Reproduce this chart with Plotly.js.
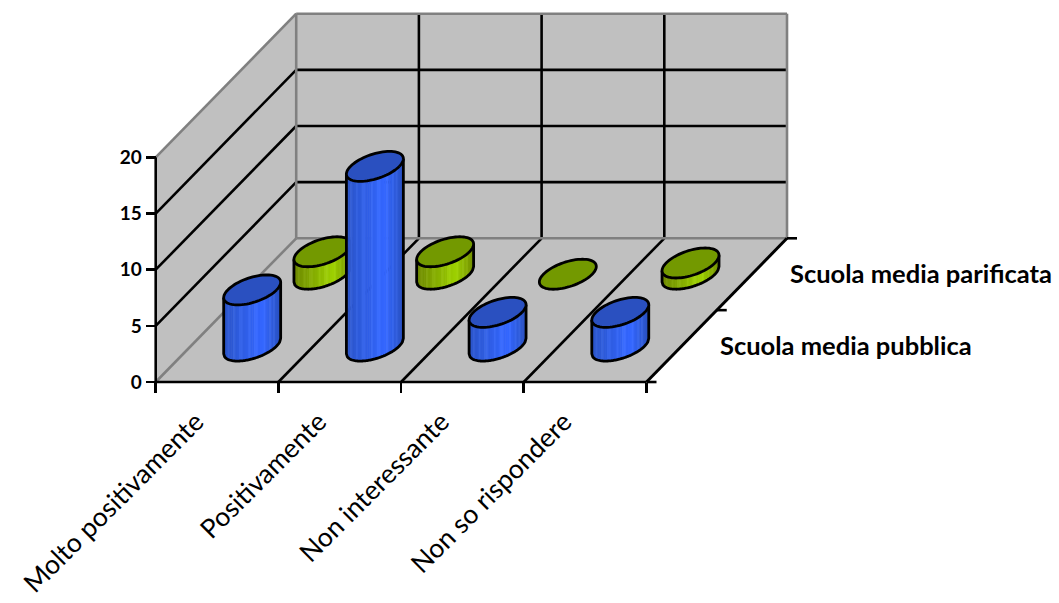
<!DOCTYPE html>
<html>
<head>
<meta charset="utf-8">
<script src="https://cdn.plot.ly/plotly-3.0.1.min.js"></script>
<style>html,body{margin:0;padding:0;background:#fff}#chart{width:1059px;height:603px}text{font-variant-ligatures:none}</style>
</head>
<body>
<div id="chart"></div>
<script>
// Survey answers per school type, drawn as oblique 3D cylinders on cartesian axes.
const categories = ["Molto positivamente", "Positivamente", "Non interessante", "Non so rispondere"];
const seriesNames = ["Scuola media pubblica", "Scuola media parificata"];
const pubblica = [5, 16, 3, 3];
const parificata = [2, 2, 0, 1];
const valueTicks = [0, 5, 10, 15, 20];
const blueBody = [[42, 84, 200], [51, 102, 255], [40, 80, 190]];
const greenBody = [[108, 135, 0], [156, 208, 0], [112, 140, 0]];
const blueTop = "#2a50c0";
const greenTop = "#739900";

// Axis scale: pixels per unit on the two visible axes, and the oblique depth vector in data units.
const PXX = 122.7, PXY = 11.23, X0 = 155.7, Y0 = 382, W = 1059, H = 603;
const DEPTH_X = 140.5 / PXX, DEPTH_Y = 143.7 / PXY;
const project = (c, d, v) => [c + DEPTH_X * d, v + DEPTH_Y * d];

const traces = [];
function poly(points, fill, lineColor, lineWidth) {
  traces.push({
    type: "scatter", mode: lineColor ? "lines" : "none", hoverinfo: "skip", showlegend: false,
    x: points.map(p => p[0]), y: points.map(p => p[1]),
    fill: fill ? "toself" : "none", fillcolor: fill || undefined,
    line: lineColor ? {color: lineColor, width: lineWidth, simplify: false} : undefined
  });
}
const seg = (a, b, color, width) => poly([a, b], null, color, width);

const nCat = categories.length;
const GREY = "#808080", BLACK = "#000000", WALL = "#c0c0c0";
const LW = 2.6;

// Walls and floor
poly([project(0,0,0), project(0,1,0), project(nCat,1,0), project(nCat,0,0), project(0,0,0)], WALL);
poly([project(0,1,0), project(0,1,20), project(nCat,1,20), project(nCat,1,0), project(0,1,0)], WALL);
poly([project(0,0,0), project(0,0,20), project(0,1,20), project(0,1,0), project(0,0,0)], WALL);

// Gridlines on the walls and floor divisions
valueTicks.slice(1, -1).forEach(v => {
  seg(project(0,0,v), project(0,1,v), BLACK, LW);
  seg(project(0,1,v), project(nCat,1,v), BLACK, LW);
});
for (let c = 1; c < nCat; c++) {
  seg(project(c,1,0), project(c,1,20), BLACK, LW);
  seg(project(c,0,0), project(c,1,0), BLACK, LW);
}
// Wall frame
seg(project(0,0,0), project(0,1,0), GREY, LW);
seg(project(0,0,20), project(0,1,20), GREY, LW);
seg(project(0,1,0), project(0,1,20), GREY, LW);
seg(project(0,1,20), project(nCat,1,20), GREY, LW);
seg(project(0,1,0), project(nCat,1,0), GREY, LW);
seg(project(nCat,1,0), project(nCat,1,20), GREY, LW);
// Axis lines and the depth axis ticks
const DT = 10 / PXX;
seg(project(0,0,0), project(0,0,20), BLACK, LW);
seg(project(0,0,0), project(nCat,0,0), BLACK, LW);
seg(project(nCat,0,0), project(nCat,1,0), BLACK, 3);
[0, 0.5, 1].forEach(d => {
  const p = project(nCat, d, 0);
  seg(p, [p[0] + DT, p[1]], BLACK, LW);
});

// Cylinders: the base circle lies in the floor plane, so it shows as a tilted ellipse
const RAD_C = 0.199, RAD_D = 0.1044;
const TILT = Math.atan2(RAD_D * DEPTH_X * PXX, RAD_C * PXX);
const rim = (c, d, v, th) => project(c + Math.cos(th) * RAD_C, d + Math.sin(th) * RAD_D, v);
const STRIPS = 30;
const streaks = [2, 5, 8, 9, 13, 16, 17, 21, 24, 26];
function stripColor(stops, t, i) {
  const k = 0.68, from = t < k ? stops[0] : stops[1], to = t < k ? stops[1] : stops[2];
  const u = t < k ? t / k : (t - k) / (1 - k);
  const lift = streaks.includes(i) ? 9 : 0;
  const rgb = from.map((f, j) => Math.min(255, Math.round(f + (to[j] - f) * u + lift)));
  return "rgb(" + rgb.join(",") + ")";
}
function cylinder(c, d, value, stops, topColor) {
  const cx = c + 0.5;
  const front = t => TILT + 2 * Math.PI - Math.acos(2 * t - 1);
  if (value > 0) {
    for (let i = 0; i < STRIPS; i++) {
      const pts = [];
      const t0 = i / STRIPS, t1 = Math.min(1, (i + 1.3) / STRIPS);
      [0, 0.25, 0.5, 0.75, 1].forEach(f => pts.push(rim(cx, d, value, front(t0 + (t1 - t0) * f))));
      [1, 0.75, 0.5, 0.25, 0].forEach(f => pts.push(rim(cx, d, 0, front(t0 + (t1 - t0) * f))));
      pts.push(pts[0]);
      poly(pts, stripColor(stops, (i + 0.5) / STRIPS, i));
    }
    // Silhouette: left edge, lower base arc, right edge
    const edge = [];
    for (let i = 0; i <= 60; i++) edge.push(rim(cx, d, 0, front(i / 60)));
    edge.unshift(rim(cx, d, value, front(0)));
    edge.push(rim(cx, d, value, front(1)));
    poly(edge, null, BLACK, 2.8);
  }
  const top = [];
  for (let i = 0; i <= 72; i++) top.push(rim(cx, d, value, i / 72 * 2 * Math.PI));
  poly(top, topColor, BLACK, 2.8);
}
// Back row first so the front row overlaps it
parificata.forEach((v, c) => cylinder(c, 0.75, v, greenBody, greenTop));
pubblica.forEach((v, c) => cylinder(c, 0.25, v, blueBody, blueTop));

const layout = {
  width: W, height: H, margin: {l: 0, r: 0, t: 0, b: 0},
  paper_bgcolor: "#ffffff", plot_bgcolor: "#ffffff", showlegend: false,
  xaxis: {
    range: [-X0 / PXX, (W - X0) / PXX], anchor: "free", position: (H - Y0) / H,
    showgrid: false, zeroline: false, showline: false, ticks: "",
    tickmode: "array", tickvals: categories.map((_, i) => i + 0.5), ticktext: categories,
    tickangle: -45, ticklabelstandoff: 18, ticklabelshift: -21,
    tickfont: {family: "Lato, sans-serif", size: 26.5, color: "#000"},
    minor: {tickmode: "array", tickvals: [0, 1, 2, 3, 4], ticks: "outside", ticklen: 10, tickwidth: 2.6, tickcolor: "#000", showgrid: false}
  },
  yaxis: {
    range: [(Y0 - H) / PXY, Y0 / PXY], anchor: "free", position: X0 / W,
    showgrid: false, zeroline: false, showline: false,
    tickmode: "array", tickvals: valueTicks, ticktext: valueTicks.map(String),
    ticks: "outside", ticklen: 10, tickwidth: 2.6, tickcolor: "#000",
    tickfont: {family: "Lato, sans-serif", size: 19, color: "#000", weight: 700}
  },
  annotations: seriesNames.map((name, i) => {
    const p = project(nCat, 0.25 + i * 0.5, 0);
    return {
      x: p[0], y: p[1], xref: "x", yref: "y", text: "<b>" + name + "</b>", showarrow: false,
      xanchor: "left", yanchor: "middle", xshift: 36, yshift: 1,
      font: {family: "Lato, sans-serif", size: 25.5, color: "#000"}
    };
  })
};
Plotly.newPlot("chart", traces, layout, {staticPlot: true, displayModeBar: false});
</script>
</body>
</html>
